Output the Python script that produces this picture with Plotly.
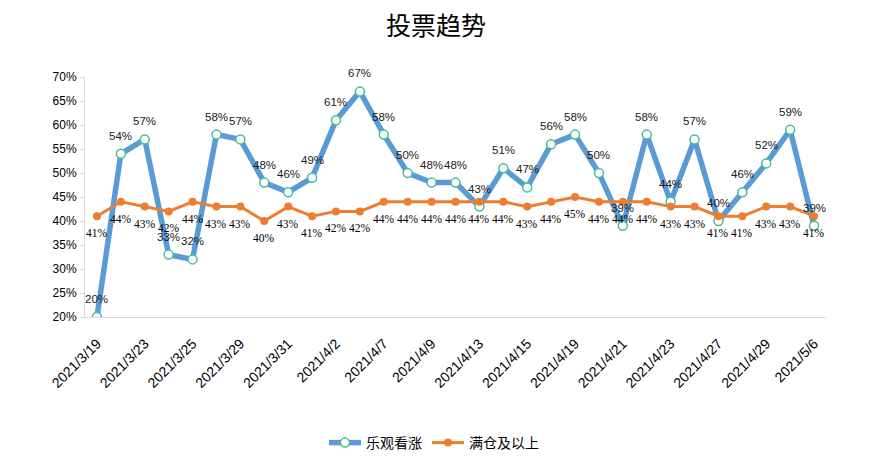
import plotly.graph_objects as go

dates = ["2021/3/19", "2021/3/22", "2021/3/23", "2021/3/24", "2021/3/25", "2021/3/26",
         "2021/3/29", "2021/3/30", "2021/3/31", "2021/4/1", "2021/4/2", "2021/4/6",
         "2021/4/7", "2021/4/8", "2021/4/9", "2021/4/12", "2021/4/13", "2021/4/14",
         "2021/4/15", "2021/4/16", "2021/4/19", "2021/4/20", "2021/4/21", "2021/4/22",
         "2021/4/23", "2021/4/26", "2021/4/27", "2021/4/28", "2021/4/29", "2021/4/30",
         "2021/5/6"]
bullish = [0.20, 0.54, 0.57, 0.33, 0.32, 0.58, 0.57, 0.48, 0.46, 0.49, 0.61, 0.67,
           0.58, 0.50, 0.48, 0.48, 0.43, 0.51, 0.47, 0.56, 0.58, 0.50, 0.39, 0.58,
           0.44, 0.57, 0.40, 0.46, 0.52, 0.59, 0.39]
full_pos = [0.41, 0.44, 0.43, 0.42, 0.44, 0.43, 0.43, 0.40, 0.43, 0.41, 0.42, 0.42,
            0.44, 0.44, 0.44, 0.44, 0.44, 0.44, 0.43, 0.44, 0.45, 0.44, 0.44, 0.44,
            0.43, 0.43, 0.41, 0.41, 0.43, 0.43, 0.41]
tick_labels = dates[::2]

# page body has an 8px margin, so figure coords = window coords - 8
W, H = 871, 472
OFF = 8

fig = go.Figure()
fig.add_trace(go.Scatter(
    x=dates, y=bullish, name="乐观看涨", mode="lines+markers",
    line=dict(color="#5B9BD5", width=5.5),
    marker=dict(size=9, color="white", line=dict(color="#45BF95", width=1.5)),
))
fig.add_trace(go.Scatter(
    x=dates, y=full_pos, name="满仓及以上", mode="lines+markers",
    line=dict(color="#ED7D31", width=3),
    marker=dict(size=8, color="#ED7D31"),
))

annotations = []
for d, v in zip(dates, bullish):
    annotations.append(dict(x=d, y=v, xref="x", yref="y", text=f"{round(v*100)}%",
                            showarrow=False, yshift=18,
                            font=dict(family="Liberation Sans, Arial", size=11.5, color="#1a1a1a")))
for d, v in zip(dates, full_pos):
    annotations.append(dict(x=d, y=v, xref="x", yref="y", text=f"{round(v*100)}%",
                            showarrow=False, yshift=-17,
                            font=dict(family="Liberation Serif, Times New Roman", size=11.5, color="#000000")))

fig.update_layout(
    width=W, height=H,
    margin=dict(l=85 - OFF, r=W - (826 - OFF), t=77 - OFF, b=H - (317 - OFF)),
    paper_bgcolor="white", plot_bgcolor="white",
    title=dict(text="投票趋势", x=(436 - OFF) / W, xref="container", xanchor="center",
               y=1 - (26 - OFF) / H, yref="container", yanchor="middle",
               font=dict(family="Noto Sans CJK SC", size=25, color="#000000")),
    legend=dict(orientation="h", x=(434 - OFF) / W, xref="container", xanchor="center",
                y=1 - (443 - OFF) / H, yref="container", yanchor="middle",
                font=dict(family="Noto Sans CJK SC", size=14, color="#000000"),
                itemwidth=32),
    showlegend=True,
    annotations=annotations,
)
fig.update_xaxes(
    type="category", range=[-0.5, 30.5], tickmode="array",
    tickvals=tick_labels, ticktext=tick_labels, tickangle=-45,
    showline=True, linecolor="#d9d9d9", linewidth=1, showgrid=False, ticks="",
    ticklabelstandoff=12, automargin=False,
    tickfont=dict(family="Liberation Sans, Arial", size=14, color="#000000"),
)
fig.update_yaxes(
    range=[0.2, 0.7], dtick=0.05, tickformat=".0%",
    showline=True, linecolor="#d9d9d9", linewidth=1, showgrid=False,
    ticks="outside", ticklen=5, tickcolor="#d9d9d9", zeroline=False, automargin=False,
    tickfont=dict(family="Liberation Sans, Arial", size=12, color="#000000"),
)

fig.write_html("out.html")
